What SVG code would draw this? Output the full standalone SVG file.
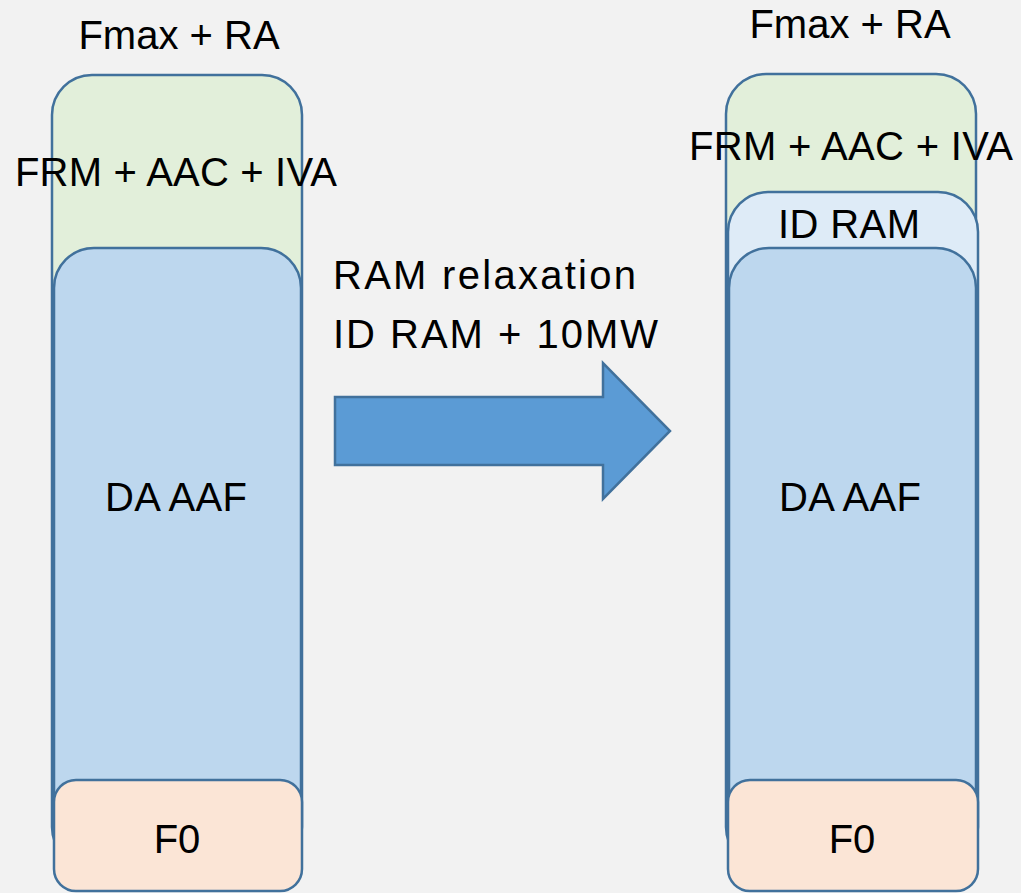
<svg xmlns="http://www.w3.org/2000/svg" width="1021" height="893" viewBox="0 0 1021 893">
  <style>
    .box { stroke: #41719c; stroke-width: 2.5; }
    .green { fill: #e2efda; }
    .blue { fill: #bdd7ee; }
    .light { fill: #deebf7; }
    .peach { fill: #fbe5d6; }
    text { font-family: "Liberation Sans", Arial, sans-serif; font-size: 40px; fill: #000; }
    .c { text-anchor: middle; }
  </style>
  <rect width="1021" height="893" fill="#f2f2f2"/>

  <!-- Left stack -->
  <g id="left-fmax-ra"><text class="c" x="179" y="49">Fmax + RA</text></g>
  <g id="left-frm">
    <rect class="box green" x="52" y="75" width="250" height="792" rx="40" ry="40"/>
    <text class="c" x="176" y="186" textLength="322">FRM + AAC + IVA</text>
  </g>
  <g id="left-da-aaf">
    <rect class="box blue" x="54" y="248" width="247" height="619" rx="40" ry="40"/>
    <text class="c" x="176" y="511" textLength="142">DA AAF</text>
  </g>
  <g id="left-f0">
    <rect class="box peach" x="54" y="780" width="248" height="111" rx="22" ry="22"/>
    <text class="c" x="177" y="853">F0</text>
  </g>

  <!-- Transition label and arrow -->
  <g id="relaxation-label">
    <text x="333" y="289" textLength="303">RAM relaxation</text>
    <text x="333" y="348" textLength="325">ID RAM + 10MW</text>
  </g>
  <g id="connectors">
    <polygon points="335,397 603,397 603,363 670,431 603,499 603,465 335,465" fill="#5b9bd5" stroke="#41719c" stroke-width="2.5"/>
  </g>

  <!-- Right stack -->
  <g id="right-fmax-ra"><text class="c" x="850" y="38">Fmax + RA</text></g>
  <g id="right-frm">
    <rect class="box green" x="726" y="74" width="250" height="793" rx="40" ry="40"/>
    <text class="c" x="851" y="160" textLength="324">FRM + AAC + IVA</text>
  </g>
  <g id="right-id-ram">
    <rect class="box light" x="728" y="192" width="250" height="675" rx="40" ry="40"/>
    <text class="c" x="849" y="238" textLength="142">ID RAM</text>
  </g>
  <g id="right-da-aaf">
    <rect class="box blue" x="729" y="248" width="247" height="619" rx="40" ry="40"/>
    <text class="c" x="850" y="511" textLength="142">DA AAF</text>
  </g>
  <g id="right-f0">
    <rect class="box peach" x="728" y="780" width="250" height="111" rx="22" ry="22"/>
    <text class="c" x="852" y="853">F0</text>
  </g>
</svg>
